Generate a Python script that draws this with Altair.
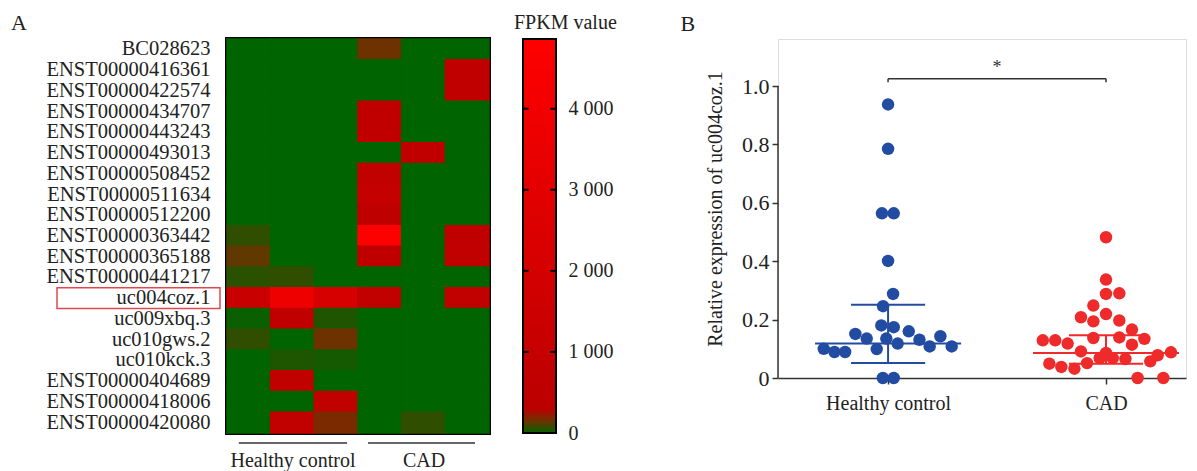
import altair as alt
import pandas as pd

# ---------------- data: panel A (heatmap) ----------------
genes = ["BC028623", "ENST00000416361", "ENST00000422574", "ENST00000434707",
         "ENST00000443243", "ENST00000493013", "ENST00000508452", "ENST00000511634",
         "ENST00000512200", "ENST00000363442", "ENST00000365188", "ENST00000441217",
         "uc004coz.1", "uc009xbq.3", "uc010gws.2", "uc010kck.3",
         "ENST00000404689", "ENST00000418006", "ENST00000420080"]
samples = ["HC1", "HC2", "HC3", "CAD1", "CAD2", "CAD3"]
fpkm = [
    [0, 0, 0, 150, 0, 0],
    [0, 0, 0, 0, 0, 620],
    [0, 0, 0, 0, 0, 620],
    [0, 0, 0, 640, 0, 0],
    [0, 0, 0, 620, 0, 0],
    [0, 0, 0, 0, 640, 0],
    [0, 0, 0, 700, 0, 0],
    [0, 0, 0, 900, 0, 0],
    [0, 0, 0, 560, 0, 0],
    [65, 0, 0, 4700, 0, 650],
    [130, 0, 0, 650, 0, 680],
    [57, 65, 0, 0, 0, 0],
    [1150, 3800, 2200, 700, 0, 700],
    [14, 640, 44, 0, 0, 0],
    [65, 0, 150, 0, 0, 0],
    [0, 41, 29, 0, 0, 0],
    [0, 700, 0, 0, 0, 0],
    [0, 0, 680, 0, 0, 0],
    [0, 700, 175, 0, 65, 0],
]
group_labels = ["Healthy control", "CAD"]
highlight_gene = "uc004coz.1"

fpkm_breaks = [0, 150, 300, 4860]
fpkm_colors = ["#006400", "#6e3200", "#bb0000", "#ff0000"]
fpkm_ticks = [0, 1000, 2000, 3000, 4000]

# ---------------- data: panel B (dot plot) ----------------
hc_values = [0.937, 0.785, 0.564, 0.564, 0.401, 0.288, 0.246, 0.180, 0.174, 0.151,
             0.135, 0.135, 0.118, 0.099, 0.160, 0.131, 0.108, 0.143, 0.108, 0.100,
             0.089, 0.089, 0.0, 0.0]
hc_offsets = [0, 0, -0.028, 0.026, 0, 0.023, -0.023, -0.031, 0.026, -0.150,
              -0.098, -0.008, 0.044, -0.052, 0.095, 0.144, 0.191, 0.240, 0.292, -0.295,
              -0.246, -0.197, -0.024, 0.026]
cad_values = [0.482, 0.337, 0.288, 0.290, 0.248, 0.208, 0.194, 0.219, 0.197, 0.166,
              0.129, 0.129, 0.118, 0.137, 0.139, 0.114, 0.134, 0.091, 0.086, 0.051,
              0.068, 0.068, 0.065, 0.049, 0.038, 0.032, 0.057, 0.078, 0.088, 0.0, 0.0]
cad_offsets = [0, 0, 0, 0.061, -0.058, -0.115, -0.058, 0, 0.061, 0.119,
               -0.290, -0.233, -0.176, -0.058, 0.061, 0.119, 0.176, -0.115, 0, -0.087,
               -0.029, 0.031, 0.089, -0.260, -0.205, -0.145, 0.203, 0.237, 0.298, 0.145, 0.263]
medians = [0.118, 0.086]
q1s = [0.051, 0.049]
q3s = [0.251, 0.146]
y_ticks = [0, 0.2, 0.4, 0.6, 0.8, 1.0]
sig_label = "*"

# ---------------- styles ----------------
FONT = "Liberation Serif"
TXT = "#222222"
AX = "#333333"
BLUE = "#224ca2"
RED = "#ee2a2a"
HM_W, HM_H = 262, 394
CB_W = 33
SC_W, SC_H = 408, 339
x_dom = [-0.505, 1.367]
y_dom = [0, 1.161]
median_half, iqr_half = 0.335, 0.17
bracket_y, bracket_drop, star_y = 1.025, 0.012, 1.062
group_line_start = [0.27, 3.23]
group_line_end = [2.75, 5.68]
cb_tick_frac = 0.17

# ---------------- panel A ----------------
rows = []
for gi, g in enumerate(genes):
    for si, s in enumerate(samples):
        rows.append({"gene": g, "sample": s, "x0": si, "x1": si + 1, "fpkm": fpkm[gi][si]})
hm_df = pd.DataFrame(rows)

color_scale = alt.Scale(domain=fpkm_breaks, range=fpkm_colors, interpolate="rgb")
y_gene = alt.Y("gene:N", sort=genes,
               scale=alt.Scale(paddingInner=0, paddingOuter=0),
               axis=alt.Axis(title=None, ticks=False, domain=False, labelPadding=17,
                             labelFontSize=20.5, labelColor=TXT, labelFont=FONT))

cells = alt.Chart(hm_df).mark_rect(strokeWidth=1.5).encode(
    x=alt.X("x0:Q", scale=alt.Scale(domain=[0, 6], nice=False, zero=False),
            axis=alt.Axis(values=[1.5, 4.5],
                          labelExpr="datum.value < 3 ? 'Healthy control' : 'CAD'",
                          ticks=False, domain=False, grid=False, title=None,
                          labelFontSize=20, labelPadding=17, labelColor=TXT,
                          labelFont=FONT, labelFlush=False)),
    x2="x1:Q",
    y=y_gene,
    color=alt.Color("fpkm:Q", scale=color_scale, legend=None),
    stroke=alt.Stroke("fpkm:Q", scale=color_scale, legend=None),
)

gl_df = pd.DataFrame({"group": group_labels, "s": group_line_start, "e": group_line_end})
glines = alt.Chart(gl_df).mark_rule(color=AX, strokeWidth=1.5).encode(
    x="s:Q", x2="e:Q", y=alt.value(HM_H + 10))

box = alt.Chart(pd.DataFrame({"gene": [highlight_gene]})).mark_rect(
    filled=False, stroke="#e0484f", strokeWidth=1.5).encode(
    y=alt.Y("gene:N", sort=genes), x=alt.value(-170), x2=alt.value(-7))

heat = alt.layer(cells, glines, box).properties(
    width=HM_W, height=HM_H,
    view=alt.ViewBackground(stroke="black", strokeWidth=4),
    title=alt.TitleParams("A", anchor="start", frame="bounds", dx=-35,
                          fontSize=22, offset=3, font=FONT, color=TXT, fontWeight="normal"),
)

# ---------------- colour bar ----------------
grad = alt.LinearGradient(
    gradient="linear", x1=0, x2=0, y1=1, y2=0,
    stops=[alt.GradientStop(color=c, offset=v / fpkm_breaks[-1])
           for v, c in zip(fpkm_breaks, fpkm_colors)])
cb_df = pd.DataFrame({"x0": [0], "x1": [1], "y0": [fpkm_breaks[0]], "y1": [fpkm_breaks[-1]]})
cb_rect = alt.Chart(cb_df).mark_rect(fill=grad, stroke="black", strokeWidth=2).encode(
    x=alt.X("x0:Q", scale=alt.Scale(domain=[0, 1], nice=False), axis=None),
    x2="x1:Q",
    y=alt.Y("y0:Q", scale=alt.Scale(domain=[fpkm_breaks[0], fpkm_breaks[-1]], nice=False),
            axis=alt.Axis(orient="right", values=fpkm_ticks, ticks=False, domain=False,
                          grid=False, title=None, labelPadding=12, labelFontSize=20,
                          labelColor=TXT, labelFont=FONT, labelFlush=False,
                          labelOverlap=False,
                          labelExpr="replace(format(datum.value, ','), ',', ' ')")),
    y2="y1:Q",
)
tk_rows = []
for t in fpkm_ticks[1:]:
    tk_rows.append({"v": t, "s": 0, "e": cb_tick_frac})
    tk_rows.append({"v": t, "s": 1 - cb_tick_frac, "e": 1})
cb_ticks = alt.Chart(pd.DataFrame(tk_rows)).mark_rule(color="black", strokeWidth=2).encode(
    x="s:Q", x2="e:Q", y="v:Q")
cbar = alt.layer(cb_rect, cb_ticks).properties(
    width=CB_W, height=HM_H,
    title=alt.TitleParams("FPKM value", anchor="start", dx=-8, fontSize=20, offset=5,
                          font=FONT, color=TXT, fontWeight="normal"),
)

# ---------------- panel B ----------------
pts = pd.DataFrame({
    "group": [group_labels[0]] * len(hc_values) + [group_labels[1]] * len(cad_values),
    "x": [0 + o for o in hc_offsets] + [1 + o for o in cad_offsets],
    "value": hc_values + cad_values,
})
grp_color = alt.Color("group:N", scale=alt.Scale(domain=group_labels, range=[BLUE, RED]),
                      legend=None)
xs = alt.Scale(domain=x_dom, nice=False, zero=False)
ys = alt.Scale(domain=y_dom, nice=False, zero=False)

points = alt.Chart(pts).mark_circle(size=155, opacity=1).encode(
    x=alt.X("x:Q", scale=xs,
            axis=alt.Axis(values=[0, 1], labelExpr="datum.value == 0 ? 'Healthy control' : 'CAD'",
                          tickSize=6, tickColor=AX, tickWidth=1.5, domainColor=AX,
                          domainWidth=1.5, grid=False, title=None, labelFontSize=20,
                          labelPadding=9, labelColor=TXT, labelFont=FONT, labelFlush=False)),
    y=alt.Y("value:Q", scale=ys,
            axis=alt.Axis(values=y_ticks,
                          labelExpr="datum.value == 0 ? '0' : format(datum.value, '.1f')",
                          tickSize=6, tickColor=AX, tickWidth=1.5, domain=False, grid=False,
                          labelFontSize=22, labelPadding=3, labelColor=TXT, labelFont=FONT,
                          title="Relative expression of uc004coz.1", titleFontSize=20,
                          titleFont=FONT, titleColor=TXT, titleFontWeight="normal",
                          titlePadding=16)),
    color=grp_color,
)

seg_rows = []
for gi, g in enumerate(group_labels):
    seg_rows.append({"group": g, "s": gi - median_half, "e": gi + median_half, "y": medians[gi]})
    seg_rows.append({"group": g, "s": gi - iqr_half, "e": gi + iqr_half, "y": q1s[gi]})
    seg_rows.append({"group": g, "s": gi - iqr_half, "e": gi + iqr_half, "y": q3s[gi]})
segs = alt.Chart(pd.DataFrame(seg_rows)).mark_rule(strokeWidth=2).encode(
    x=alt.X("s:Q", scale=xs), x2="e:Q", y=alt.Y("y:Q", scale=ys), color=grp_color)
vert = alt.Chart(pd.DataFrame({"group": group_labels, "x": [0, 1], "lo": q1s, "hi": q3s})
                 ).mark_rule(strokeWidth=2).encode(
    x=alt.X("x:Q", scale=xs), y=alt.Y("lo:Q", scale=ys), y2="hi:Q", color=grp_color)

yaxis_line = alt.Chart(pd.DataFrame({"x": [x_dom[0]], "lo": [y_ticks[0]], "hi": [y_ticks[-1]]})
                       ).mark_rule(color=AX, strokeWidth=1.5).encode(
    x=alt.X("x:Q", scale=xs), y=alt.Y("lo:Q", scale=ys), y2="hi:Q")

br_h = alt.Chart(pd.DataFrame({"s": [0], "e": [1], "y": [bracket_y]})).mark_rule(
    color=AX, strokeWidth=1.5).encode(x=alt.X("s:Q", scale=xs), x2="e:Q", y=alt.Y("y:Q", scale=ys))
br_v = alt.Chart(pd.DataFrame({"x": [0, 1], "lo": [bracket_y - bracket_drop] * 2,
                               "hi": [bracket_y] * 2})).mark_rule(
    color=AX, strokeWidth=1.5).encode(x=alt.X("x:Q", scale=xs), y=alt.Y("lo:Q", scale=ys), y2="hi:Q")
star = alt.Chart(pd.DataFrame({"x": [0.5], "y": [star_y], "t": [sig_label]})).mark_text(
    fontSize=18, font=FONT, color=AX).encode(
    x=alt.X("x:Q", scale=xs), y=alt.Y("y:Q", scale=ys), text="t:N")

scatter = alt.layer(points, segs, vert, yaxis_line, br_h, br_v, star).properties(
    width=SC_W, height=SC_H,
    title=alt.TitleParams("B", anchor="start", frame="bounds", dx=-25,
                          fontSize=22, offset=3, font=FONT, color=TXT, fontWeight="normal"),
)

inner = alt.hconcat(heat, cbar, spacing=21)
chart = alt.hconcat(inner, scatter, spacing=62).properties(
    padding={"left": 1, "top": 2, "right": 0, "bottom": 0}
).configure_view(stroke=None).configure(font=FONT)

chart.save("out.html", embed_options={"renderer": "svg", "actions": False})
